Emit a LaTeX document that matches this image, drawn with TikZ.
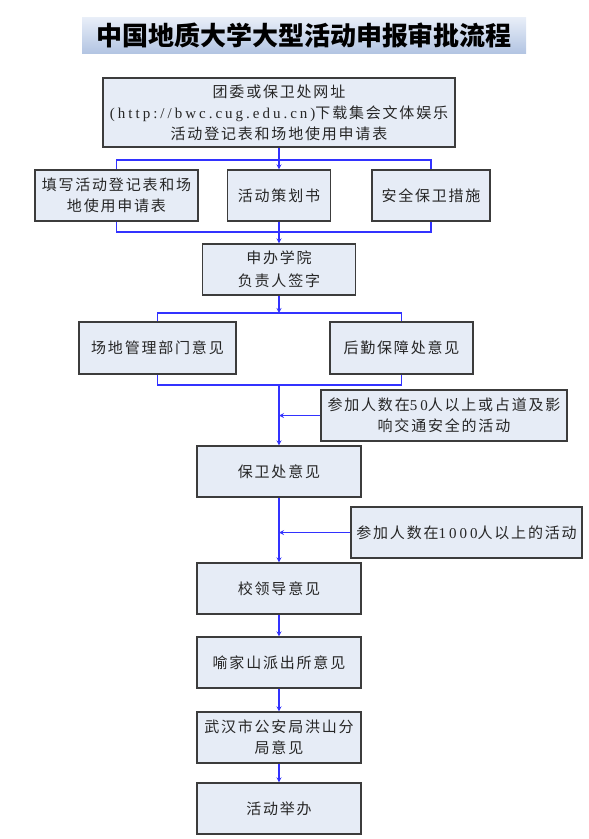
\documentclass[tikz,border=0pt]{standalone}
\usepackage{fontspec}
\setmainfont{Noto Sans CJK SC}
\newfontfamily\boxfont[LetterSpace=12]{Noto Sans CJK SC}
\newfontfamily\latin[LetterSpace=20]{Liberation Serif}
\definecolor{boxfill}{RGB}{230,236,246}
\definecolor{boxline}{RGB}{60,60,60}
\definecolor{flowblue}{RGB}{50,50,255}
\definecolor{bannertop}{RGB}{232,238,248}
\definecolor{bannerbot}{RGB}{178,196,226}

\begin{document}
\begin{tikzpicture}[x=1pt, y=-1pt, >=stealth, font=\boxfont\fontsize{15}{21}\selectfont,
  box/.style={draw=boxline, line width=1.3pt, fill=boxfill, align=center, inner sep=0pt, text=black!85, minimum height=51pt},
  conn/.style={flowblue, line width=1.2pt}]
  \useasboundingbox (0,0) rectangle (589,839);
  \node[top color=bannertop, bottom color=bannerbot, minimum width=444pt, minimum height=36pt, inner sep=0pt, font=\rmfamily\bfseries\fontsize{26}{30}\selectfont] (title) at (304,35.5) {中国地质大学大型活动申报审批流程};

  \node[box, minimum width=352pt, minimum height=69pt] (notice) at (279,112.5) {团委或保卫处网址\\{\latin (http://bwc.cug.edu.cn)}下载集会文体娱乐\\活动登记表和场地使用申请表};
  \node[box, minimum width=163pt] (apply) at (116.5,195.5) {填写活动登记表和场\\地使用申请表};
  \node[box, minimum width=103pt] (plan) at (279,195.5) {活动策划书};
  \node[box, minimum width=118pt] (safety) at (431,195.5) {安全保卫措施};
  \node[box, minimum width=153pt] (college) at (279,269.5) {申办学院\\[2pt]负责人签字};
  \node[box, minimum width=157pt, minimum height=52pt] (venue) at (157.5,348) {场地管理部门意见};
  \node[box, minimum width=143pt, minimum height=52pt] (logistics) at (401.5,348) {后勤保障处意见};
  \node[box, minimum width=246pt] (crowd) at (444,415.5) {参加人数在{\latin 50}人以上或占道及影\\响交通安全的活动};
  \node[box, minimum width=164pt] (security) at (279,471.5) {保卫处意见};
  \node[box, minimum width=231pt] (large) at (466.5,532.5) {参加人数在{\latin 1000}人以上的活动};
  \node[box, minimum width=164pt] (leader) at (279,588.5) {校领导意见};
  \node[box, minimum width=164pt] (station) at (279,662.5) {喻家山派出所意见};
  \node[box, minimum width=164pt] (bureau) at (279,737.5) {武汉市公安局洪山分\\局意见};
  \node[box, minimum width=164pt] (hold) at (279,808.5) {活动举办};

  \coordinate (split) at (279,160);
  \coordinate (merge) at (279,232);
  \coordinate (fork) at (279,313);
  \coordinate (join) at (279,385);

  \draw[conn, ->] (notice) -- (plan);
  \draw[conn] (apply.north) |- (split) -| (safety.north);
  \draw[conn] (apply.south) |- (merge) -| (safety.south);
  \draw[conn, ->] (plan) -- (college);
  \draw[conn, ->] (college) -- (fork);
  \draw[conn] (venue.north) |- (fork) -| (logistics.north);
  \draw[conn] (venue.south) |- (join) -| (logistics.south);
  \draw[conn, ->] (join) -- (security);
  \draw[conn, ->] (crowd.west) -- (crowd.west -| join);
  \draw[conn, ->] (security) -- (leader);
  \draw[conn, ->] (large.west) -- (large.west -| security);
  \draw[conn, ->] (leader) -- (station);
  \draw[conn, ->] (station) -- (bureau);
  \draw[conn, ->] (bureau) -- (hold);
\end{tikzpicture}
\end{document}
